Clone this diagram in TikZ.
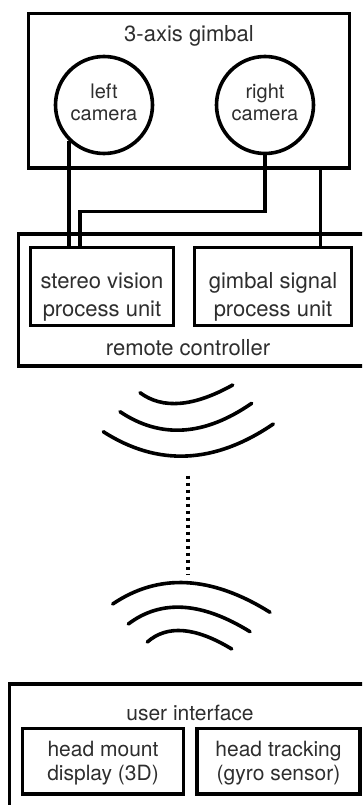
\documentclass[tikz,border=0pt]{standalone}
\usepackage{fontspec}
\setmainfont{TeX Gyre Heros}
\begin{document}
\begin{tikzpicture}[x=1pt,y=-1pt,
  box/.style={draw=black, line width=3.6pt, rectangle, inner sep=0pt},
  cam/.style={draw=black, circle, line width=3.6pt, minimum size=97pt, inner sep=0pt},
  txt/.style={text=black!82, inner sep=0pt, anchor=base, font=\fontsize{22}{26}\selectfont},
  camtxt/.style={txt, font=\fontsize{20}{23}\selectfont},
  uitxt/.style={txt, font=\fontsize{21}{25}\selectfont},
  wire/.style={draw=black, line width=3.4pt},
  wave/.style={draw=black, line width=3.6pt, line cap=round},
  dotline/.style={draw=black, line width=3.6pt, dash pattern=on 3.4pt off 3.6pt}]
\useasboundingbox (0,0) rectangle (362,805);
\clip (0,0) rectangle (362,805);
\fill[white] (0,0) rectangle (362,805);

% gimbal
\node[box, minimum width=321pt, minimum height=154.5pt] (gimbal) at (189,90.75) {};
\node[txt] (gimbaltxt) at (189,42) {3-axis gimbal};
\node[cam] (lc) at (104,105) {};
\node[camtxt] (lc1) at (104,98.5) {left};
\node[camtxt] (lc2) at (104,121) {camera};
\node[cam] (rc) at (265,105) {};
\node[camtxt] (rc1) at (265,98.5) {right};
\node[camtxt] (rc2) at (265,121) {camera};

% remote controller
\node[box, minimum width=361.5pt, minimum height=132pt] (remote) at (199.25,300) {};
\node[txt] (remotetxt) at (188,355) {remote controller};
\node[box, minimum width=143pt, minimum height=78pt] (sv) at (102,286.5) {};
\node[txt] (sv1) at (102,288) {stereo vision};
\node[txt] (sv2) at (102,316) {process unit};
\node[box, minimum width=157pt, minimum height=78pt] (gs) at (273,286.5) {};
\node[txt] (gs1) at (273,288) {gimbal signal};
\node[txt] (gs2) at (273,316) {process unit};

% wires
\coordinate (j) at (80,211.5);
\coordinate (gw) at (320.5,168);
\draw[wire] (lc.226.7) -- (lc.226.7 |- sv.north);
\draw[wire] (rc.south) |- (j) -- (j |- sv.north);
\draw[wire] (gw) -- (gw |- gs.north);

% upper waves
\coordinate (a1) at (140,392.7); \coordinate (b1) at (232.7,385);
\coordinate (a2) at (120,411.7); \coordinate (b2) at (251.7,403.3);
\coordinate (a3) at (103.3,431.7); \coordinate (b3) at (273.3,424);
\draw[wave] (a1) .. controls (162.5,409.4) and (193.4,406.9) .. (b1);
\draw[wave] (a2) .. controls (160.5,438.9) and (204.4,436.1) .. (b2);
\draw[wave] (a3) .. controls (157.8,466.7) and (214.5,464.1) .. (b3);

% dotted link
\coordinate (dtop) at (188,475.5);
\coordinate (dbot) at (188,574);
\draw[dotline] (dtop) -- (dbot);

% lower waves
\coordinate (c1) at (112.7,604); \coordinate (d1) at (270,612.3);
\coordinate (c2) at (128.3,624); \coordinate (d2) at (250,631.7);
\coordinate (c3) at (147.3,642); \coordinate (d3) at (231.7,649);
\draw[wave] (c1) .. controls (158.9,572.8) and (211.4,575.6) .. (d1);
\draw[wave] (c2) .. controls (161.1,599.2) and (201.6,601.7) .. (d2);
\draw[wave] (c3) .. controls (167.2,624.6) and (195.3,626.9) .. (d3);

% user interface
\node[box, minimum width=370.5pt, minimum height=146pt] (ui) at (194.75,757) {};
\node[uitxt] (uitxt) at (190,720) {user interface};
\node[box, minimum width=161pt, minimum height=65.2pt] (hmd) at (103,761.1) {};
\node[uitxt] (hmd1) at (103,756) {head mount};
\node[uitxt] (hmd2) at (103,780) {display (3D)};
\node[box, minimum width=163pt, minimum height=65.2pt] (ht) at (278.5,761.1) {};
\node[uitxt] (ht1) at (278.5,756) {head tracking};
\node[uitxt] (ht2) at (278.5,780) {(gyro sensor)};
\end{tikzpicture}
\end{document}
